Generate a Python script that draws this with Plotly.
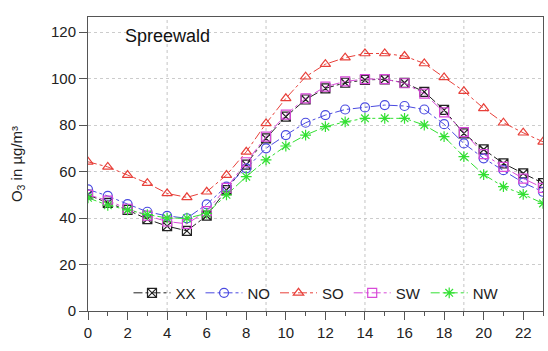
import plotly.graph_objects as go

hours = list(range(24))
xx = [50, 46.5, 43.5, 39.5, 36.5, 34.5, 41, 52, 63, 74.3, 83.6, 91, 95.8, 98.2, 99.4, 99.7, 98.2, 94.3, 86.5, 76.4, 69.5, 63.5, 59.2, 55]
no = [52.3, 49.5, 46, 42.7, 40.9, 39.9, 45.9, 53.5, 61.4, 70, 75.7, 81, 84.3, 86.7, 87.6, 88.6, 88.2, 86.7, 80.4, 72.1, 65.7, 60.6, 55.2, 51.3]
so = [64.2, 62, 58.5, 55, 50.6, 48.9, 51.3, 58.5, 68.5, 80.7, 91.5, 100.8, 106.2, 109, 110.8, 110.8, 109.7, 106.5, 100.5, 94.6, 87.2, 81, 76.7, 72.8]
sw = [50, 47.5, 44, 41, 38.5, 37.5, 43, 53, 64, 75, 84.5, 91.5, 96.5, 98.8, 99.8, 99.8, 98, 93.5, 85.5, 77, 67.5, 62, 57, 53]
nw = [48.7, 45.5, 43.5, 41.5, 40, 39.9, 42, 50, 57.8, 65, 71, 75.7, 79.3, 81.4, 82.9, 82.9, 82.9, 80, 75, 66.4, 58.7, 53.5, 50.2, 46.3]
vgrid = [4, 9, 14, 19]
yrange = [0, 126.5]

series = [
    ("XX", xx, "#222222", "square-x-open"),
    ("NO", no, "#4a4ae0", "circle-open"),
    ("SO", so, "#e8403a", "triangle-up-open"),
    ("SW", sw, "#d84ad8", "square-open"),
    ("NW", nw, "#33e033", "asterisk-open"),
]

fig = go.Figure()
gx, gy = [], []
for v in vgrid:
    gx += [v, v, None]
    gy += [yrange[0], yrange[1], None]
fig.add_trace(go.Scatter(x=gx, y=gy, mode="lines", showlegend=False, hoverinfo="skip",
                         line=dict(color="#c4c4c4", dash="dot", width=1)))

for name, vals, col, sym in series:
    fig.add_trace(go.Scatter(
        x=hours, y=vals, name=name, mode="lines+markers",
        line=dict(color=col, width=1, dash="dashdot"),
        marker=dict(symbol=sym, size=9, color=col, line=dict(color=col, width=1.2)),
    ))

font = "Liberation Sans, Arial, sans-serif"
fig.update_layout(
    width=548, height=351,
    margin=dict(l=88, r=5, t=17, b=40),
    paper_bgcolor="white", plot_bgcolor="white",
    font=dict(family=font, size=15, color="#222"),
    showlegend=True,
    legend=dict(orientation="h", x=0.089, y=0.061, xanchor="left", yanchor="middle",
                bgcolor="rgba(0,0,0,0)", font=dict(size=15), tracegroupgap=0,
                itemwidth=37),
    xaxis=dict(range=[0, 23], tick0=0, dtick=2, ticks="outside", ticklen=8,
               tickcolor="#555", showgrid=False, zeroline=False,
               showline=True, linecolor="#555", linewidth=1, mirror=True,
               minor=dict(dtick=1, ticks="outside", ticklen=4, tickcolor="#555", showgrid=False),
               tickfont=dict(size=15)),
    yaxis=dict(range=yrange, tick0=0, dtick=20, ticks="outside", ticklen=8,
               tickcolor="#555", showgrid=True, gridcolor="#cccccc", griddash="dot",
               zeroline=False, showline=True, linecolor="#555", linewidth=1, mirror=True,
               title=dict(text="O<sub>3</sub> in µg/m³", font=dict(size=15), standoff=24),
               tickfont=dict(size=15)),
    annotations=[dict(text="Spreewald", x=0.076, y=0.975, xref="paper", yref="paper",
                      xanchor="left", yanchor="top", showarrow=False,
                      font=dict(size=18, color="#111"))],
)
fig.write_html("out.html")
